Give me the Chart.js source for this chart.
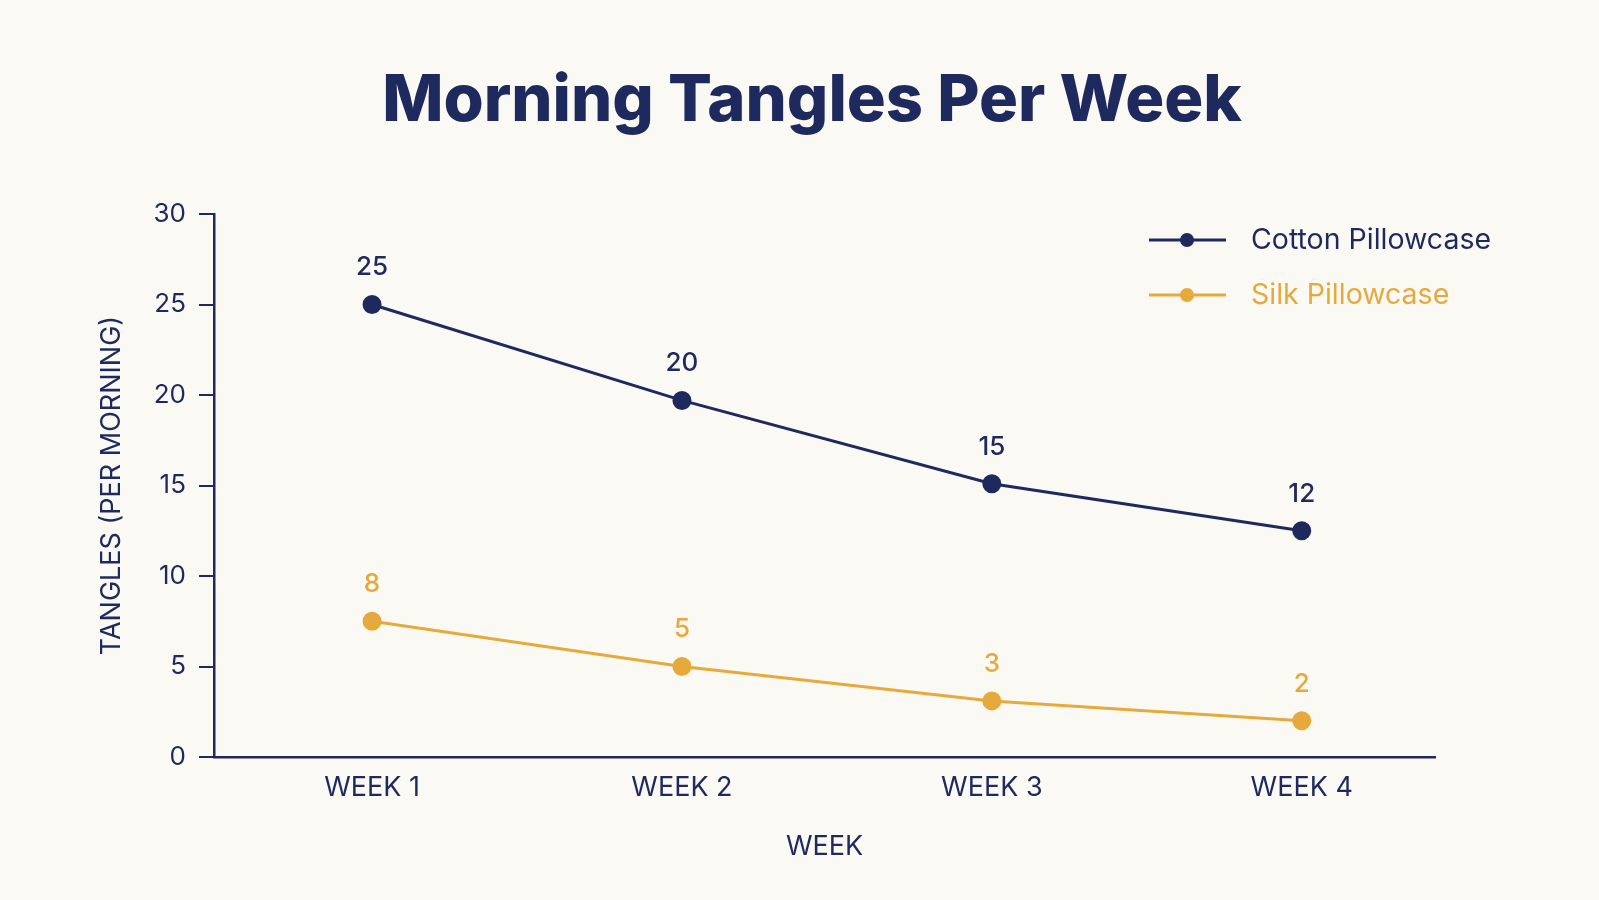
<!DOCTYPE html>
<html>
<head>
<meta charset="utf-8">
<script src="https://cdn.jsdelivr.net/npm/chart.js@4"></script>
<style>
  html, body { margin: 0; padding: 0; background: #fbf9f4; }
  canvas { display: block; }
</style>
</head>
<body>
<canvas id="chart" width="1599" height="900"></canvas>
<script>
// data
const weeks = ['WEEK 1', 'WEEK 2', 'WEEK 3', 'WEEK 4'];
const cottonValues = [25, 19.7, 15.1, 12.5];
const silkValues = [7.5, 5, 3.1, 2];
const cottonLabels = ['25', '20', '15', '12'];
const silkLabels = ['8', '5', '3', '2'];
const seriesNames = ['Cotton Pillowcase', 'Silk Pillowcase'];
const chartTitle = 'Morning Tangles Per Week';

const NAVY = '#1e2a5e';
const GOLD = '#e6aa3c';
const FONT = 'Inter, Lato, sans-serif';

// big title, centred on the page rather than the plot
const pageTitle = {
    id: 'pageTitle',
    afterDraw(chart) {
        const ctx = chart.ctx;
        ctx.save();
        ctx.font = '800 65px ' + FONT;
        ctx.fillStyle = NAVY;
        ctx.textAlign = 'center';
        ctx.textBaseline = 'middle';
        ctx.fillText(chartTitle, 812, 101);
        ctx.restore();
    }
};

// value labels above each point
const pointLabels = {
    id: 'pointLabels',
    afterDatasetsDraw(chart) {
        const ctx = chart.ctx;
        ctx.save();
        ctx.font = '500 26px ' + FONT;
        ctx.textAlign = 'center';
        ctx.textBaseline = 'middle';
        chart.data.datasets.forEach((ds, i) => {
            const meta = chart.getDatasetMeta(i);
            ctx.fillStyle = ds.borderColor;
            meta.data.forEach((pt, j) => {
                ctx.fillText(ds.valueLabels[j], pt.x, pt.y - 37);
            });
        });
        ctx.restore();
    }
};

// line + dot legend, top right
const lineLegend = {
    id: 'lineLegend',
    afterDraw(chart) {
        const ctx = chart.ctx;
        ctx.save();
        ctx.font = '28.5px ' + FONT;
        ctx.textBaseline = 'middle';
        chart.data.datasets.forEach((ds, i) => {
            const y = 240 + i * 55;
            ctx.strokeStyle = ds.borderColor;
            ctx.lineWidth = 3;
            ctx.beginPath();
            ctx.moveTo(1149, y);
            ctx.lineTo(1226, y);
            ctx.stroke();
            ctx.fillStyle = ds.borderColor;
            ctx.beginPath();
            ctx.arc(1187, y, 7, 0, Math.PI * 2);
            ctx.fill();
            ctx.fillText(ds.label, 1251, y);
        });
        ctx.restore();
    }
};

new Chart(document.getElementById('chart'), {
    type: 'line',
    data: {
        datasets: [
            {
                label: seriesNames[0],
                data: cottonValues.map((v, i) => ({ x: i + 1, y: v })),
                valueLabels: cottonLabels,
                borderColor: NAVY,
                backgroundColor: NAVY,
                borderWidth: 3,
                pointRadius: 8,
                pointHoverRadius: 8,
                tension: 0
            },
            {
                label: seriesNames[1],
                data: silkValues.map((v, i) => ({ x: i + 1, y: v })),
                valueLabels: silkLabels,
                borderColor: GOLD,
                backgroundColor: GOLD,
                borderWidth: 3,
                pointRadius: 8,
                pointHoverRadius: 8,
                tension: 0
            }
        ]
    },
    options: {
        responsive: false,
        animation: false,
        layout: { padding: { left: 0, right: 164, top: 214, bottom: 0 } },
        plugins: {
            legend: { display: false },
            tooltip: { enabled: false },
            title: { display: false }
        },
        scales: {
            x: {
                type: 'linear',
                min: 0.49,
                max: 4.43,
                afterBuildTicks: s => { s.ticks = weeks.map((w, i) => ({ value: i + 1 })); },
                afterFit: s => { s.height = 143; },
                grid: { display: false },
                border: { display: true, color: NAVY, width: 2.5 },
                ticks: {
                    color: NAVY,
                    padding: 7,
                    font: { family: FONT, size: 27 },
                    callback: v => weeks[Math.round(v) - 1]
                },
                title: {
                    display: true,
                    text: 'WEEK',
                    color: NAVY,
                    font: { family: FONT, size: 27 },
                    padding: { top: 0, bottom: 37 }
                }
            },
            y: {
                min: 0,
                max: 30,
                afterFit: s => { s.width = 214; },
                grid: { drawOnChartArea: false, drawTicks: true, tickLength: 15, color: NAVY, lineWidth: 2 },
                border: { display: true, color: NAVY, width: 2.5 },
                ticks: {
                    stepSize: 5,
                    color: NAVY,
                    padding: 13,
                    font: { family: FONT, size: 26 }
                },
                title: {
                    display: true,
                    text: 'TANGLES (PER MORNING)',
                    color: NAVY,
                    font: { family: FONT, size: 27 },
                    padding: { top: 96, bottom: 0 }
                }
            }
        }
    },
    plugins: [pointLabels, lineLegend, pageTitle]
});
</script>
</body>
</html>
